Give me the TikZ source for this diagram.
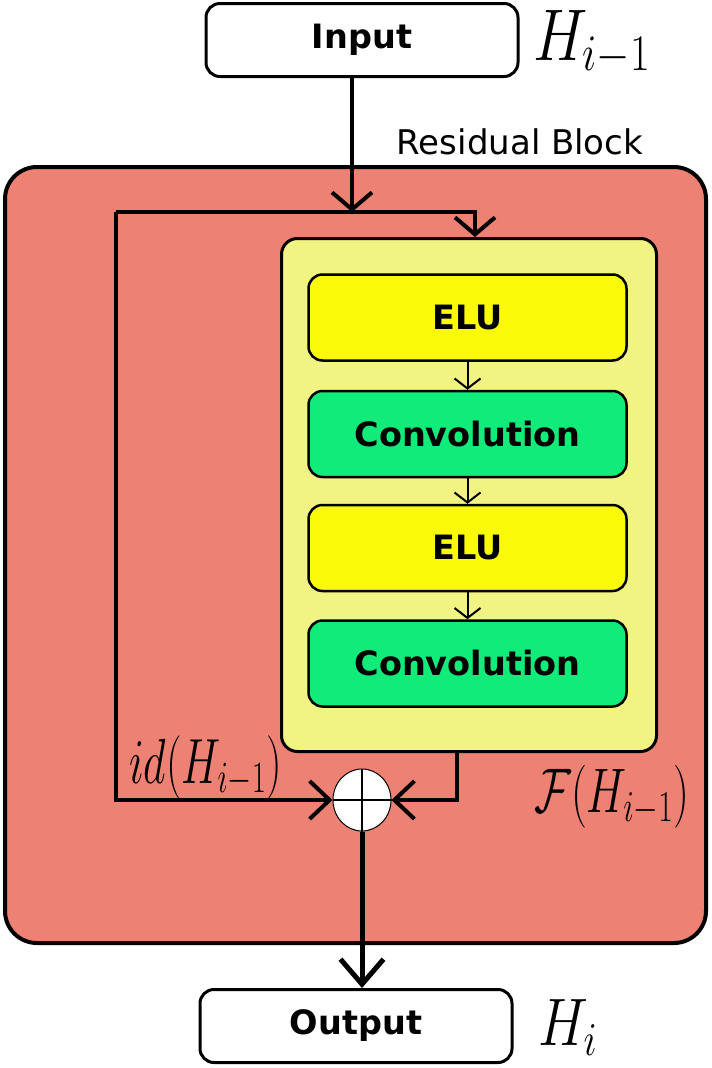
\documentclass[tikz,border=0pt]{standalone}
\usepackage{fix-cm}
\usepackage{graphicx}
\usepackage{fontspec}
\setsansfont{DejaVu Sans}
\usetikzlibrary{arrows.meta,positioning,shapes.geometric}
\definecolor{rbBlock}{HTML}{EC8174}
\definecolor{rbBranch}{HTML}{F1F383}
\definecolor{rbElu}{HTML}{FAFA08}
\definecolor{rbConv}{HTML}{10EB79}

\begin{document}
\begin{tikzpicture}[
    x=1pt, y=-1pt, >={Straight Barb[length=17pt,width=40pt]},
    box/.style={draw=black, line width=3pt, rounded corners=14pt, inner sep=0pt, font=\sffamily\bfseries\fontsize{33.5}{40}\selectfont},
    io/.style={box, fill=white, minimum width=312pt, minimum height=73pt},
    layer/.style={box, line width=2.5pt, minimum width=318pt, minimum height=86pt},
    elu/.style={layer, fill=rbElu},
    conv/.style={layer, fill=rbConv},
    wire/.style={draw=black, line width=4pt},
    small/.style={->, >={Straight Barb[length=10pt,width=26pt]}, line width=2pt},
    sym/.style={inner sep=0pt, anchor=base west},
  ]
  \useasboundingbox (0,0) rectangle (712,1068);
  % residual block and its branch
  \node[draw=black, line width=4pt, fill=rbBlock, rounded corners=32pt, minimum width=701pt, minimum height=776pt] (block) at (355.5,555) {};
  \node[draw=black, line width=3pt, fill=rbBranch, rounded corners=16pt, minimum width=375pt, minimum height=513pt] (branch) at (469,495) {};
  \node[elu] (elu1) at (467.5,317.5) {ELU};
  \node[conv] (conv1) at (467.5,434) {Convolution};
  \node[elu] (elu2) at (467.5,548) {ELU};
  \node[conv] (conv2) at (467.5,663.5) {Convolution};
  \node[io] (input) at (362,40) {Input};
  \node[io] (output) at (356,1026) {Output};
  \node[draw=black, line width=1pt, fill=white, ellipse, minimum width=58pt, minimum height=62pt, inner sep=0pt] (sum) at (362,800) {};
  \draw[line width=1.5pt] (sum.north) -- (sum.south);
  \draw[line width=1.5pt] (sum.west) -- (sum.east);
  % labels
  \node[font=\sffamily\fontsize{34}{40}\selectfont, inner sep=0pt] (title) at (520,142) {Residual Block};
  \node[sym, font=\fontsize{61}{68}\selectfont] (hin) at (533,60) {\scalebox{1}[1.2]{$H_{i-1}$}};
  \node[sym, font=\fontsize{56}{62}\selectfont] (hout) at (538,1045) {\scalebox{1}[1.2]{$H_i$}};
  \node[sym, font=\fontsize{44}{50}\selectfont] (idlab) at (129,783) {\scalebox{1}[1.45]{$id(H_{i-1})$}};
  \node[sym, font=\fontsize{45}{50}\selectfont] (flab) at (534,812) {\scalebox{1}[1.4]{$\mathcal{F}(H_{i-1})$}};
  % connectors
  \coordinate (split) at (352,212);
  \coordinate (tl) at (116,212);
  \coordinate (tr) at (475,212);
  \draw[wire,->] (input.south -| split) -- (split);
  \draw[wire,->] (tl) -- (tr) -- (tr |- branch.north);
  \draw[wire,->,>={Straight Barb[length=20pt,width=38pt]}] (tl) |- (sum.west);
  \draw[wire,->,>={Straight Barb[length=20pt,width=38pt]}] ([xshift=-12pt]branch.south) |- (sum.east);
  \draw[small] (elu1) -- (conv1);
  \draw[small] (conv1) -- (elu2);
  \draw[small] (elu2) -- (conv2);
  \draw[wire,->,line width=5pt,>={Straight Barb[length=25pt,width=43pt]}] (sum.south) -- (sum.south |- output.north);
\end{tikzpicture}
\end{document}
